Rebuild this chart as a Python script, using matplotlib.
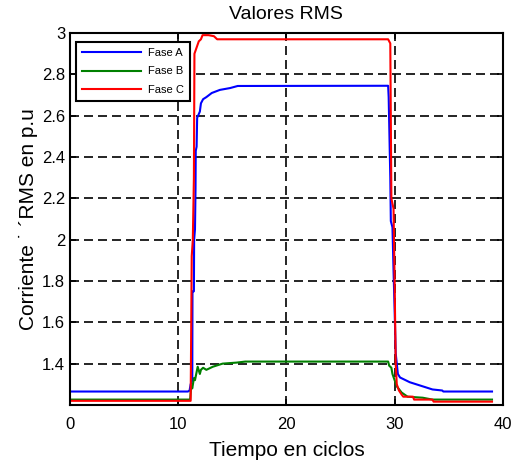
import matplotlib
matplotlib.use('Agg')
import matplotlib.pyplot as plt

plt.rcParams['font.family'] = ['Liberation Sans', 'DejaVu Sans']

# --- data (tiempo en ciclos, corriente p.u)
fase_a_t = [0, 10.9, 11.05, 11.15, 11.3, 11.32, 11.45, 11.47, 11.55, 11.6, 11.62, 11.7, 11.75,
            12.0, 12.1, 12.3, 12.6, 13.1, 13.85, 14.8, 15.5, 29.4, 29.45, 29.6, 29.65,
            29.8, 29.9, 30.0, 30.1, 30.3, 30.5, 31.4, 32.6, 33.5, 34.4, 34.5, 39.0]
fase_a_v = [1.265, 1.265, 1.27, 1.30, 1.32, 1.75, 1.75, 2.0, 2.05, 2.25, 2.43, 2.45, 2.59,
            2.62, 2.66, 2.68, 2.69, 2.71, 2.725, 2.734, 2.744, 2.745, 2.69, 2.30, 2.09,
            2.06, 1.85, 1.66, 1.45, 1.35, 1.333, 1.31, 1.29, 1.275, 1.27, 1.265, 1.265]

fase_b_t = [0, 11.1, 11.2, 11.3, 11.45, 11.55, 11.8, 12.0, 12.1, 12.3, 12.6, 13.2, 14.1,
            15.4, 16.2, 29.4, 29.5, 29.7, 29.8, 30.2, 30.65, 31.2, 32.6, 33.5, 39.0]
fase_b_v = [1.226, 1.226, 1.29, 1.28, 1.33, 1.32, 1.385, 1.35, 1.37, 1.38, 1.37, 1.385, 1.40,
            1.405, 1.41, 1.41, 1.39, 1.38, 1.35, 1.29, 1.26, 1.24, 1.235, 1.226, 1.226]

fase_c_t = [0, 11.15, 11.25, 11.35, 11.45, 11.5, 11.7, 11.9, 12.1, 12.25, 12.8, 13.3, 13.6,
            29.4, 29.6, 29.7, 29.9, 30.0, 30.1, 30.2, 30.4, 30.65, 30.8, 31.7, 31.8, 33.5,
            33.6, 39.0]
fase_c_v = [1.22, 1.22, 1.92, 2.0, 2.3, 2.9, 2.93, 2.96, 2.97, 2.99, 2.99, 2.985, 2.97,
            2.97, 2.95, 2.2, 2.15, 1.8, 1.4, 1.3, 1.27, 1.25, 1.24, 1.24, 1.226, 1.226,
            1.216, 1.216]

x_ticks = [0, 10, 20, 30, 40]
y_ticks = [1.4, 1.6, 1.8, 2.0, 2.2, 2.4, 2.6, 2.8, 3.0]
y_tick_labels = ['1.4', '1.6', '1.8', '2', '2.2', '2.4', '2.6', '2.8', '3']

fig = plt.figure(figsize=(5.11, 4.66), dpi=100)
ax = fig.add_axes([0.137, 0.131, 0.847, 0.798])

ax.plot(fase_a_t, fase_a_v, color=(0, 0, 1), lw=1.5, label='Fase A')
ax.plot(fase_b_t, fase_b_v, color=(0, 0.5, 0), lw=1.5, label='Fase B')
ax.plot(fase_c_t, fase_c_v, color=(1, 0, 0), lw=1.5, label='Fase C')

ax.set_xlim(0, 40)
ax.set_ylim(1.2, 3.0)
ax.set_xticks(x_ticks)
ax.set_yticks(y_ticks)
ax.set_yticklabels(y_tick_labels)

ax.grid(True, color='black', linestyle=(0, (5.4, 3)), linewidth=1.2)
ax.tick_params(direction='in', top=True, right=True, length=4, width=1.2,
               labelsize=12, colors='black')
ax.tick_params(axis='x', pad=9)
for sp in ax.spines.values():
    sp.set_linewidth(1.5)

ax.set_title('Valores RMS', fontsize=14, pad=10)
ax.set_xlabel('Tiempo en ciclos', fontsize=15, labelpad=6)
ax.set_ylabel('Corriente ˙ ´RMS en p.u', fontsize=15, labelpad=3)

leg = ax.legend(loc='upper left', bbox_to_anchor=(0.014, 0.976), borderaxespad=0,
                fontsize=8, handlelength=5.3, handletextpad=0.6, labelspacing=0.75,
                fancybox=False, framealpha=1, edgecolor='black', borderpad=0.55)
leg.get_frame().set_linewidth(1.5)

fig.savefig('out.png', dpi=100)
